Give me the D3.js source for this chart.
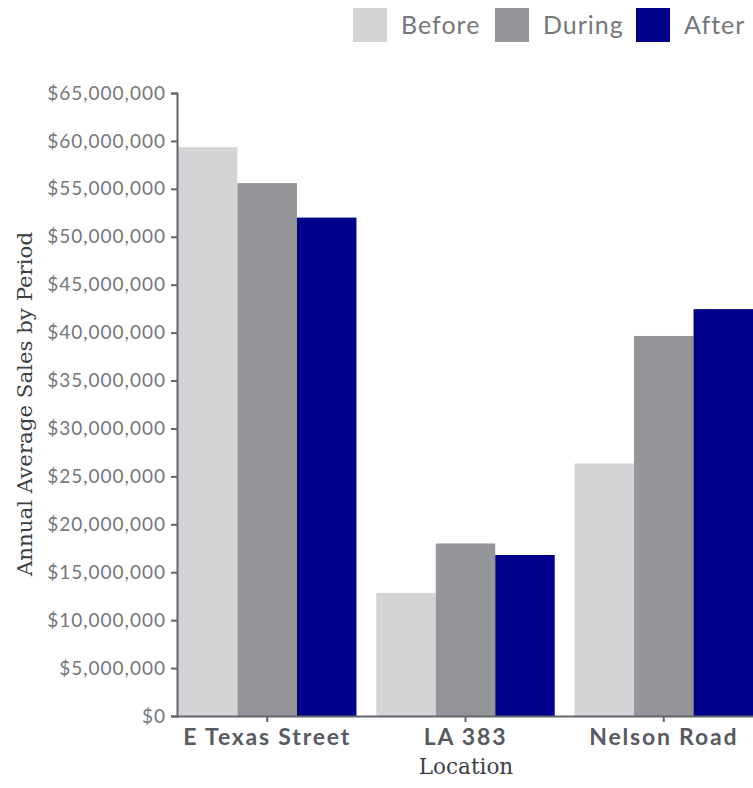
<!DOCTYPE html>
<html>
<head>
<meta charset="utf-8">
<script src="https://cdn.jsdelivr.net/npm/d3@7"></script>
<style>
  body { margin: 0; background: #fff; }
  svg { display: block; }
</style>
</head>
<body>
<div id="chart"></div>
<script>
const locations = ['E Texas Street', 'LA 383', 'Nelson Road'];
const periods = ['Before', 'During', 'After'];
const before = [59350000, 12850000, 26350000];
const during = [55600000, 18000000, 39650000];
const after = [52000000, 16800000, 42450000];
const yTicks = d3.range(0, 65000001, 5000000);

const colors = {Before: '#d3d4d6', During: '#939598', After: '#00008b'};

const svgWidth = 753, svgHeight = 788;
const margin = {top: 93, right: 0, bottom: 72, left: 178};
const width = svgWidth - margin.left - margin.right,
      height = svgHeight - margin.top - margin.bottom;

const rows = locations.map((loc, i) => ({
  location: loc,
  values: [before[i], during[i], after[i]]
}));

const svg = d3.select('#chart')
  .append('svg')
  .attr('width', svgWidth)
  .attr('height', svgHeight);

const g = svg.append('g')
  .attr('transform', `translate(${margin.left}, ${margin.top})`);

const x0 = d3.scaleBand().domain(locations).range([0, width]).paddingInner(0.1).paddingOuter(0);
const x1 = d3.scaleBand().domain(periods).range([0, x0.bandwidth()]);
const y = d3.scaleLinear().domain([0, 65000000]).range([height, 0]);

// bars
const groups = g.selectAll('.grp')
  .data(rows)
  .enter().append('g')
  .attr('transform', d => `translate(${x0(d.location)}, 0)`);

groups.selectAll('rect')
  .data(d => d.values.map((v, i) => ({period: periods[i], value: v})))
  .enter().append('rect')
  .attr('x', d => x1(d.period))
  .attr('y', d => y(d.value))
  .attr('width', x1.bandwidth())
  .attr('height', d => height - y(d.value))
  .attr('fill', d => colors[d.period]);

const axisColor = '#62666c';

// y axis
const yAxis = g.append('g')
  .attr('transform', 'translate(-1, 0)')
  .call(d3.axisLeft(y).tickValues(yTicks).tickSize(6).tickPadding(5)
    .tickFormat(d => '$' + d3.format(',')(d)));
yAxis.select('.domain').attr('stroke', axisColor).attr('stroke-width', 2);
yAxis.selectAll('.tick line').attr('stroke', axisColor).attr('stroke-width', 2);
yAxis.selectAll('.tick text')
  .attr('fill', '#74777c')
  .style('font-family', 'Lato, sans-serif')
  .style('font-size', '19px')
  .style('letter-spacing', '1px');

// x axis
const xAxis = g.append('g')
  .attr('transform', `translate(0, ${height})`)
  .call(d3.axisBottom(x0).tickSize(6).tickPadding(7).tickSizeOuter(0));
xAxis.select('.domain').attr('stroke', axisColor).attr('stroke-width', 2)
  .attr('d', `M-2,0.5H${width}`);
xAxis.selectAll('.tick line').attr('stroke', axisColor).attr('stroke-width', 2);
xAxis.selectAll('.tick text')
  .attr('fill', '#575b61')
  .style('font-family', 'Lato, sans-serif')
  .style('font-weight', 'bold')
  .style('font-size', '23px')
  .style('letter-spacing', '1.8px');

// axis titles
svg.append('text')
  .attr('transform', `translate(32, 404) rotate(-90)`)
  .attr('text-anchor', 'middle')
  .attr('fill', '#3c3f44')
  .style('font-family', 'DejaVu Serif, serif')
  .style('font-size', '21.3px')
  .text('Annual Average Sales by Period');

svg.append('text')
  .attr('x', 466)
  .attr('y', 774)
  .attr('text-anchor', 'middle')
  .attr('fill', '#3c3f44')
  .style('font-family', 'DejaVu Serif, serif')
  .style('font-size', '21.5px')
  .text('Location');

// legend
const legendX = [353, 495, 636];
const legend = svg.selectAll('.leg')
  .data(periods)
  .enter().append('g')
  .attr('transform', (d, i) => `translate(${legendX[i]}, 8)`);
legend.append('rect')
  .attr('width', 34).attr('height', 34)
  .attr('fill', d => colors[d]);
legend.append('text')
  .attr('x', 48).attr('y', 26)
  .attr('fill', '#74777c')
  .style('font-family', 'Lato, sans-serif')
  .style('font-size', '25px')
  .style('letter-spacing', '1px')
  .text(d => d);
</script>
</body>
</html>
